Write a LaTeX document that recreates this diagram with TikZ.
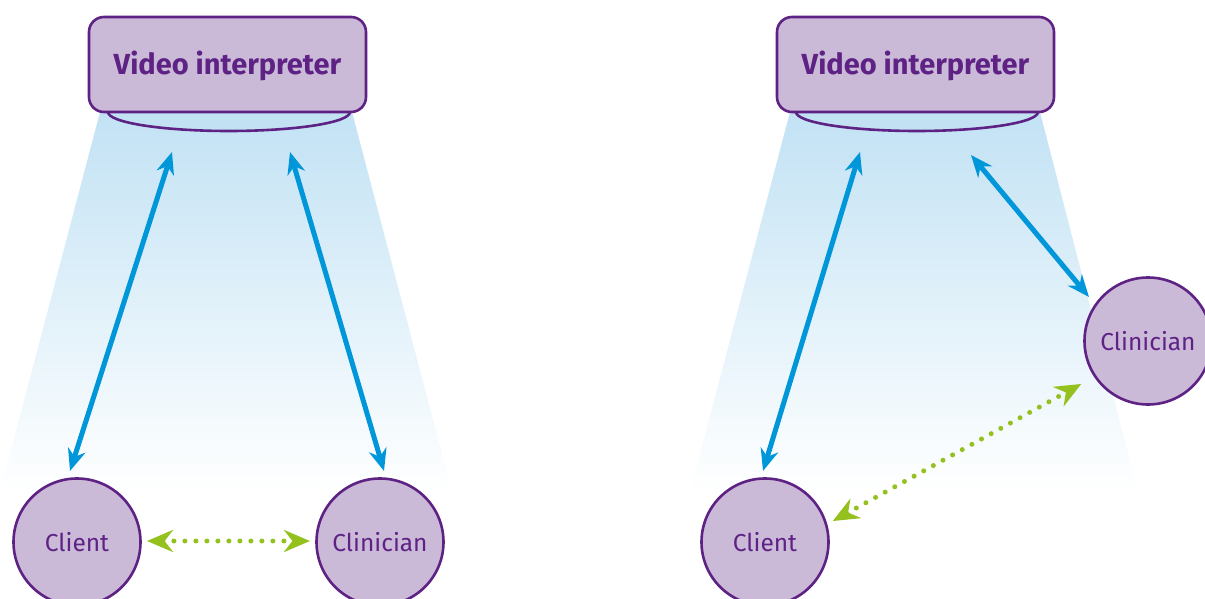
\documentclass[tikz,border=0pt]{standalone}
\usepackage{fontspec}
\setmainfont{Fira Sans}
\usetikzlibrary{arrows.meta}
\definecolor{vpurple}{HTML}{5E2285}
\definecolor{vfill}{HTML}{CBB9D8}
\definecolor{vblue}{HTML}{0096DA}
\definecolor{vgreen}{HTML}{95C11F}
\definecolor{vsky}{HTML}{C2E2F4}
\tikzset{
  vibox/.style={draw=vpurple, fill=vfill, line width=2.6pt, rounded corners=15pt, minimum width=277pt, minimum height=95pt, inner sep=0pt, text=vpurple, font=\fontsize{29}{33}\selectfont\bfseries},
  person/.style={circle, draw=vpurple, fill=vfill, line width=2.6pt, minimum size=127pt, inner sep=0pt, text=vpurple, font=\fontsize{24.5}{28}\selectfont},
  lens/.style={draw=vpurple, fill=vsky, line width=2.6pt},
  cone/.style={top color=vsky, bottom color=white, draw=none},
  talk/.style={draw=vblue, line width=5pt, {Stealth[length=22pt,width=18pt]}-{Stealth[length=22pt,width=18pt]}},
  side/.style={draw=vgreen, line width=5pt, line cap=round, dash pattern=on 0pt off 11pt, {Stealth[length=26pt,width=22pt,line cap=butt]}-{Stealth[length=26pt,width=22pt,line cap=butt]}, shorten <=2pt, shorten >=2pt}
}
\begin{document}
\begin{tikzpicture}[x=1pt,y=-1pt]
\useasboundingbox (0,0) rectangle (1205,599);
\clip (0,0) rectangle (1205,599);
% left panel
\shade[cone] (100,112) -- (352,112) -- (452,492) -- (0,492) -- cycle;
\path[lens] (108,112) arc[start angle=180, end angle=360, x radius=121pt, y radius=19pt];
\node[vibox] (vi1) at (227.5,64.5) {\raisebox{-10.5pt}[0pt][0pt]{Video interpreter}};
\node[person] (c1) at (77,542) {Client};
\node[person] (k1) at (380,542) {Clinician};
\coordinate (a1t) at (172,152);
\coordinate (a1b) at (70,471);
\coordinate (a2t) at (290,152);
\coordinate (a2b) at (384,471);
\draw[talk] (a1t) -- (a1b);
\draw[talk] (a2t) -- (a2b);
\coordinate (g1l) at (145,541);
\coordinate (g1r) at (312,541);
\draw[side] (g1l) -- (g1r);
% right panel
\shade[cone] (790,112) -- (1040,112) -- (1138,492) -- (690,492) -- cycle;
\path[lens] (796,112) arc[start angle=180, end angle=360, x radius=121pt, y radius=19pt];
\node[vibox] (vi2) at (915.5,64.5) {\raisebox{-10.5pt}[0pt][0pt]{Video interpreter}};
\node[person] (c2) at (765,542) {Client};
\node[person] (k2) at (1148,341) {Clinician};
\coordinate (a3t) at (860,152);
\coordinate (a3b) at (763,471);
\coordinate (a4t) at (971,155);
\coordinate (a4b) at (1089,297);
\draw[talk] (a3t) -- (a3b);
\draw[talk] (a4t) -- (a4b);
\coordinate (g2l) at (831,522);
\coordinate (g2r) at (1083,383);
\draw[side] (g2l) -- (g2r);
\end{tikzpicture}
\end{document}
